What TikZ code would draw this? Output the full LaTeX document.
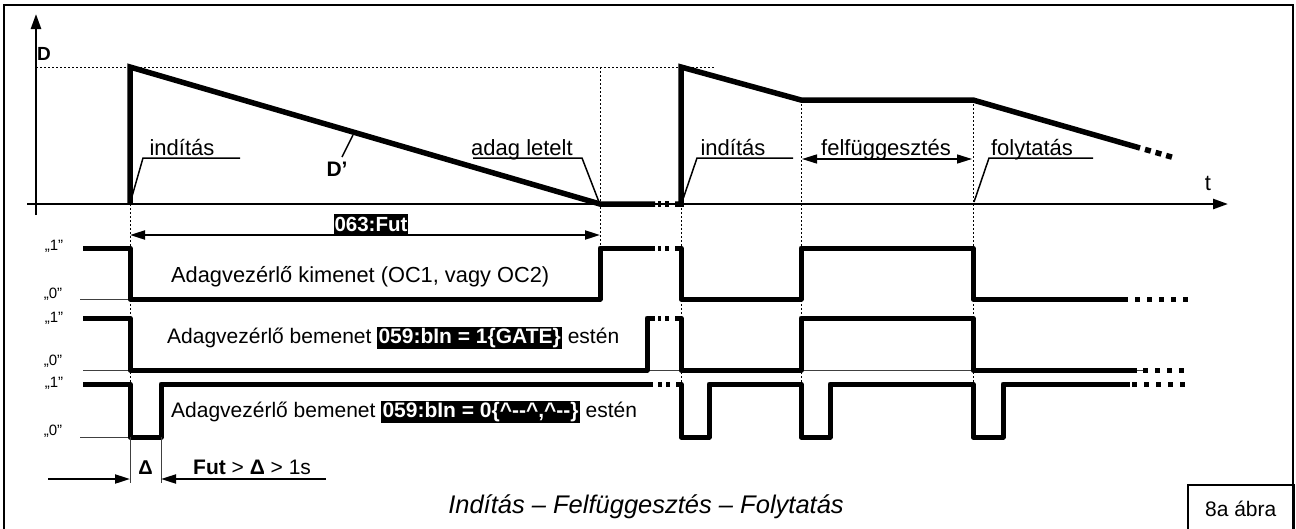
\documentclass[tikz,border=0pt]{standalone}
\usepackage{fontspec}
\setmainfont{Liberation Sans}
\usetikzlibrary{arrows.meta}
\newcommand\hlbox[1]{{\setlength\fboxsep{1.2pt}\colorbox{black}{\textcolor{white}{\bfseries #1}}}}
\tikzset{
 sig/.style={line width=5pt, line join=round},
 ramp/.style={line width=5.5pt, line join=miter},
 axis/.style={line width=2.5pt, -{Triangle[length=15pt,width=10pt]}},
 dotl/.style={line width=0.8pt, dash pattern=on 2pt off 2pt},
 thinl/.style={line width=1pt, black!75},
 lead/.style={line width=1.5pt},
 dim/.style={line width=2pt},
 lbl/.style={font=\fontsize{22}{24}\selectfont, inner sep=0pt},
 big/.style={font=\fontsize{21.8}{24}\selectfont, inner sep=0pt},
 mid/.style={font=\fontsize{21}{24}\selectfont, inner sep=0pt},
 lvl/.style={font=\fontsize{15}{17}\selectfont, inner sep=0pt},
 dots/.style={line width=5pt, dash pattern=on 5pt off 7pt},
}
\begin{document}
\begin{tikzpicture}[x=1pt,y=-1pt]
\useasboundingbox (0,0) rectangle (1296,528);
\draw[line width=2pt] (4,5) rectangle (1293,531);
% dotted guides
\draw[dotl] (36,67) -- (715,67);
\draw[dotl] (130,204) -- (130,384);
\draw[dotl] (600,67) -- (600,248);
\draw[dotl] (681,204) -- (681,384);
\draw[dotl] (801,100) -- (801,384);
\draw[dotl] (973,100) -- (973,384);
% axes
\draw[axis] (36,215) -- (36,14);
\draw[axis] (27,204) -- (1228,204);
\node[font=\bfseries\fontsize{19}{21}\selectfont, anchor=base west, inner sep=0pt] (D) at (37,60) {D};
\node[lbl, anchor=base] (t) at (1208,190) {t};
% D curve
\draw[ramp] (130,204) -- (130,67) -- (600,204) -- (655,204);
\draw[ramp] (658,204) -- (661,204) (665,204) -- (669,204);
\draw[ramp] (675,204) -- (681,204) -- (681,67) -- (801,100) -- (973,100) -- (1140,148);
\draw[ramp, dash pattern=on 6pt off 5pt] (1145,149.4) -- (1176,158.3);
% annotations
\node[lbl, anchor=base] (ind1) at (182,155) {indítás};
\draw[lead] (240,158) -- (143,158) -- (131,200);
\node[lbl, font=\bfseries\fontsize{21}{23}\selectfont, anchor=base] (Dp) at (337,176) {D’};
\draw[lead] (342,157) -- (353,135);
\node[lbl, anchor=base] (adag) at (522,155) {adag letelt};
\draw[lead] (473,158) -- (582,158) -- (599,202);
\node[lbl, anchor=base] (ind2) at (733,155) {indítás};
\draw[lead] (793,158) -- (697,158) -- (682,202);
\node[lbl, anchor=base] (felf) at (886,155) {felfüggesztés};
\draw[lead, {Triangle[length=15pt,width=9pt]}-{Triangle[length=15pt,width=9pt]}] (802,159) -- (972,159);
\node[lbl, anchor=base] (foly) at (1032,155) {folytatás};
\draw[lead] (1093,158) -- (989,158) -- (974,202);
% 063:Fut
\node[fill=black, text=white, font=\bfseries\fontsize{20.5}{22}\selectfont, inner xsep=1pt, inner ysep=0pt, minimum height=21pt] (fut) at (371,224) {063:Fut};
\draw[dim, {Triangle[length=15pt,width=9pt]}-{Triangle[length=15pt,width=9pt]}] (130,235) -- (600,235);
% level labels and baselines
\node[lvl] (h1) at (54,246) {„1”};
\node[lvl] (l1) at (53,294) {„0”};
\node[lvl] (h2) at (54,318) {„1”};
\node[lvl] (l2) at (53,361) {„0”};
\node[lvl] (h3) at (54,383) {„1”};
\node[lvl] (l3) at (53,431) {„0”};
\draw[thinl] (80,299) -- (130,299);
\draw[thinl] (83,370) -- (1143,370);
\draw[thinl] (80,437) -- (130,437);
% signal 1
\draw[sig] (83,248) -- (130,248) -- (130,299) -- (600,299) -- (600,248) -- (655,248);
\draw[sig] (658,248) -- (661,248) (665,248) -- (669,248);
\draw[sig] (675,248) -- (681,248) -- (681,299) -- (801,299) -- (801,248) -- (973,248) -- (973,299) -- (1128,299);
\draw[dots] (1135,299) -- (1190,299);
% signal 2
\draw[sig] (83,318) -- (130,318) -- (130,370) -- (647,370) -- (647,318) -- (655,318);
\draw[sig] (658,318) -- (661,318) (665,318) -- (669,318);
\draw[sig] (675,318) -- (681,318) -- (681,370) -- (801,370) -- (801,318) -- (973,318) -- (973,370) -- (1137,370);
\draw[dots] (1143,370) -- (1186,370);
% signal 3
\draw[sig] (83,384) -- (130,384) -- (130,437) -- (161,437) -- (161,384) -- (653,384);
\draw[sig] (658,384) -- (662,384) (666,384) -- (670,384);
\draw[sig] (676,384) -- (681,384) -- (681,437) -- (709,437) -- (709,384) -- (801,384) -- (801,437) -- (830,437) -- (830,384) -- (973,384) -- (973,437) -- (1003,437) -- (1003,384) -- (1130,384);
\draw[dots] (1132,384) -- (1186,384);
% signal texts
\node[big, anchor=base west] (s1t) at (171,282) {Adagvezérlő kimenet (OC1, vagy OC2)};
\node[mid, anchor=base west] (s2t) at (167,343) {Adagvezérlő bemenet \hlbox{059:bIn = 1\{GATE\}} estén};
\node[mid, anchor=base west] (s3t) at (171,417) {Adagvezérlő bemenet \hlbox{059:bIn = 0\{\textasciicircum-{}-\textasciicircum,\textasciicircum-{}-\}} estén};
% delta dimension
\draw[thinl] (130,437) -- (130,483);
\draw[thinl] (161,437) -- (161,483);
\draw[dim, -{Triangle[length=15pt,width=9pt]}] (48,479) -- (130,479);
\draw[dim, -{Triangle[length=15pt,width=9pt]}] (326,479) -- (161,479);
\node[font=\bfseries\fontsize{20}{22}\selectfont, anchor=base, inner sep=0pt] (delta) at (145.5,474) {Δ};
\node[font=\fontsize{21}{23}\selectfont, anchor=base west, inner sep=0pt] (cond) at (193,474) {\textbf{Fut} > \textbf{Δ} > 1s};
% caption
\node[font=\itshape\fontsize{25.5}{28}\selectfont] (cap) at (646,507) {Indítás – Felfüggesztés – Folytatás};
\node[draw, line width=1.5pt, anchor=north west, minimum width=106pt, minimum height=48pt, inner sep=0pt, font=\fontsize{21}{23}\selectfont] (fig) at (1187,484) {8a ábra};
\end{tikzpicture}
\end{document}
